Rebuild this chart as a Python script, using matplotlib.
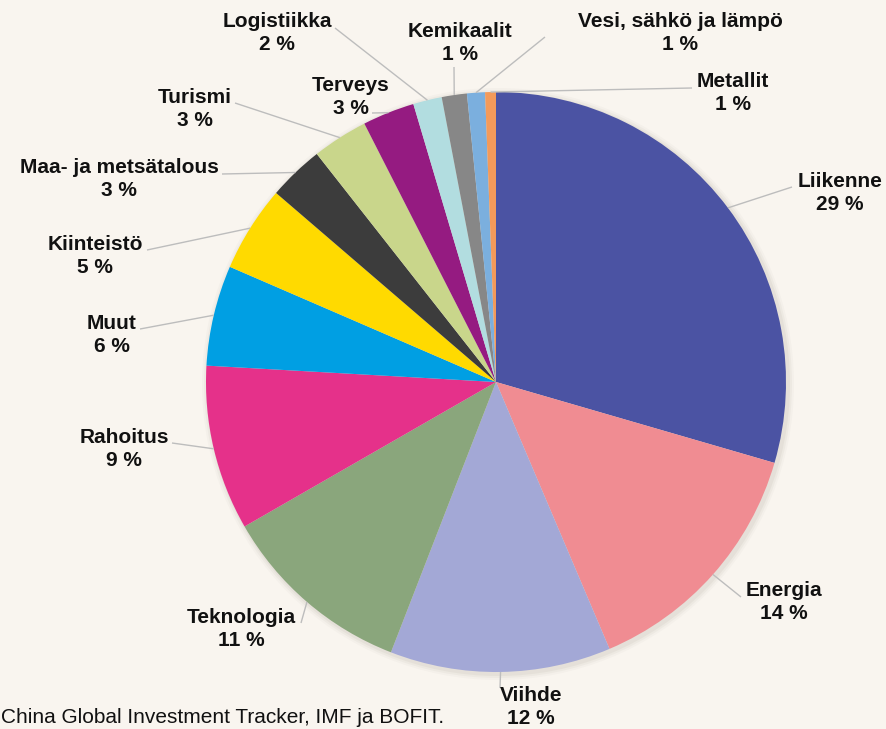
"""Chinese outbound investment by sector - pie chart with leader-line labels."""

import numpy as np
import matplotlib
matplotlib.use("Agg")
import matplotlib.pyplot as plt
from matplotlib.patches import Circle

W, H = 887, 729

sectors = ["Liikenne", "Energia", "Viihde", "Teknologia", "Rahoitus", "Muut",
           "Kiinteistö", "Maa- ja metsätalous", "Turismi", "Terveys",
           "Logistiikka", "Kemikaalit", "Vesi, sähkö ja lämpö", "Metallit"]
shares = [29.5, 14.1, 12.3, 10.8, 9.2, 5.6, 4.8, 3.1, 3.1, 2.9, 1.6, 1.4, 1.0, 0.6]
shown_pct = [29, 14, 12, 11, 9, 6, 5, 3, 3, 3, 2, 1, 1, 1]
colors = ["#4B53A3", "#F08C92", "#A3A8D6", "#8AA67C", "#E5318A", "#009FE3",
          "#FFDA00", "#3C3C3C", "#C9D68B", "#951B81", "#B2DDE0", "#878787",
          "#7BAFDE", "#F39A5A"]
source = "China Global Investment Tracker, IMF ja BOFIT."

# label layout in pixel coords (x, y from top)
label_pos = [(840, 193), (784, 602), (531, 707), (241, 629), (124, 449), (112, 335),
             (95, 256), (119, 179), (195, 109), (351, 97), (277, 33), (460, 43),
             (680, 33), (733, 93)]
line_end = [(792, 187), (741, 597), (500, 688), (301, 623), (172, 443), (140, 329),
            (147, 250), (222, 174), (235, 103), (372, 113), (335, 28), (454, 67),
            (545, 37), (692, 88)]

BG = "#F9F5EF"
cx, cy, R = 496, H - 382, 290

fig = plt.figure(figsize=(W / 100, H / 100), dpi=100, facecolor=BG)
ax = fig.add_axes([0, 0, 1, 1])
ax.set_facecolor(BG)

# soft drop shadow
for k, a in [(6, 0.04), (4, 0.06), (2, 0.08)]:
    ax.add_patch(Circle((cx + 2, cy - 2), R + k, color="#8a8070", alpha=a, lw=0, zorder=1))

wedges, _ = ax.pie(shares, colors=colors, startangle=90, counterclock=False,
                   center=(cx, cy), radius=R, frame=True,
                   wedgeprops=dict(linewidth=0, zorder=2))
ax.set_xlim(0, W)
ax.set_ylim(0, H)
ax.set_aspect("equal")
ax.axis("off")

for w, name, pct, (lx, ly), (ex, ey) in zip(wedges, sectors, shown_pct, label_pos, line_end):
    mid = np.deg2rad((w.theta1 + w.theta2) / 2)
    px, py = cx + R * np.cos(mid), cy + R * np.sin(mid)
    ax.plot([px, ex], [py, H - ey], color="#BDBDBD", lw=1.0, zorder=3,
            solid_capstyle="butt")
    ax.text(lx, H - ly, f"{name}\n{pct} %", ha="center", va="center",
            fontsize=15, fontweight="bold", family="Liberation Sans",
            linespacing=1.27, color="#111111", zorder=4)

ax.text(444, H - 723, source, ha="right", va="baseline", fontsize=15,
        family="Liberation Sans", color="#111111")

fig.savefig("out.png", dpi=100, facecolor=BG)
